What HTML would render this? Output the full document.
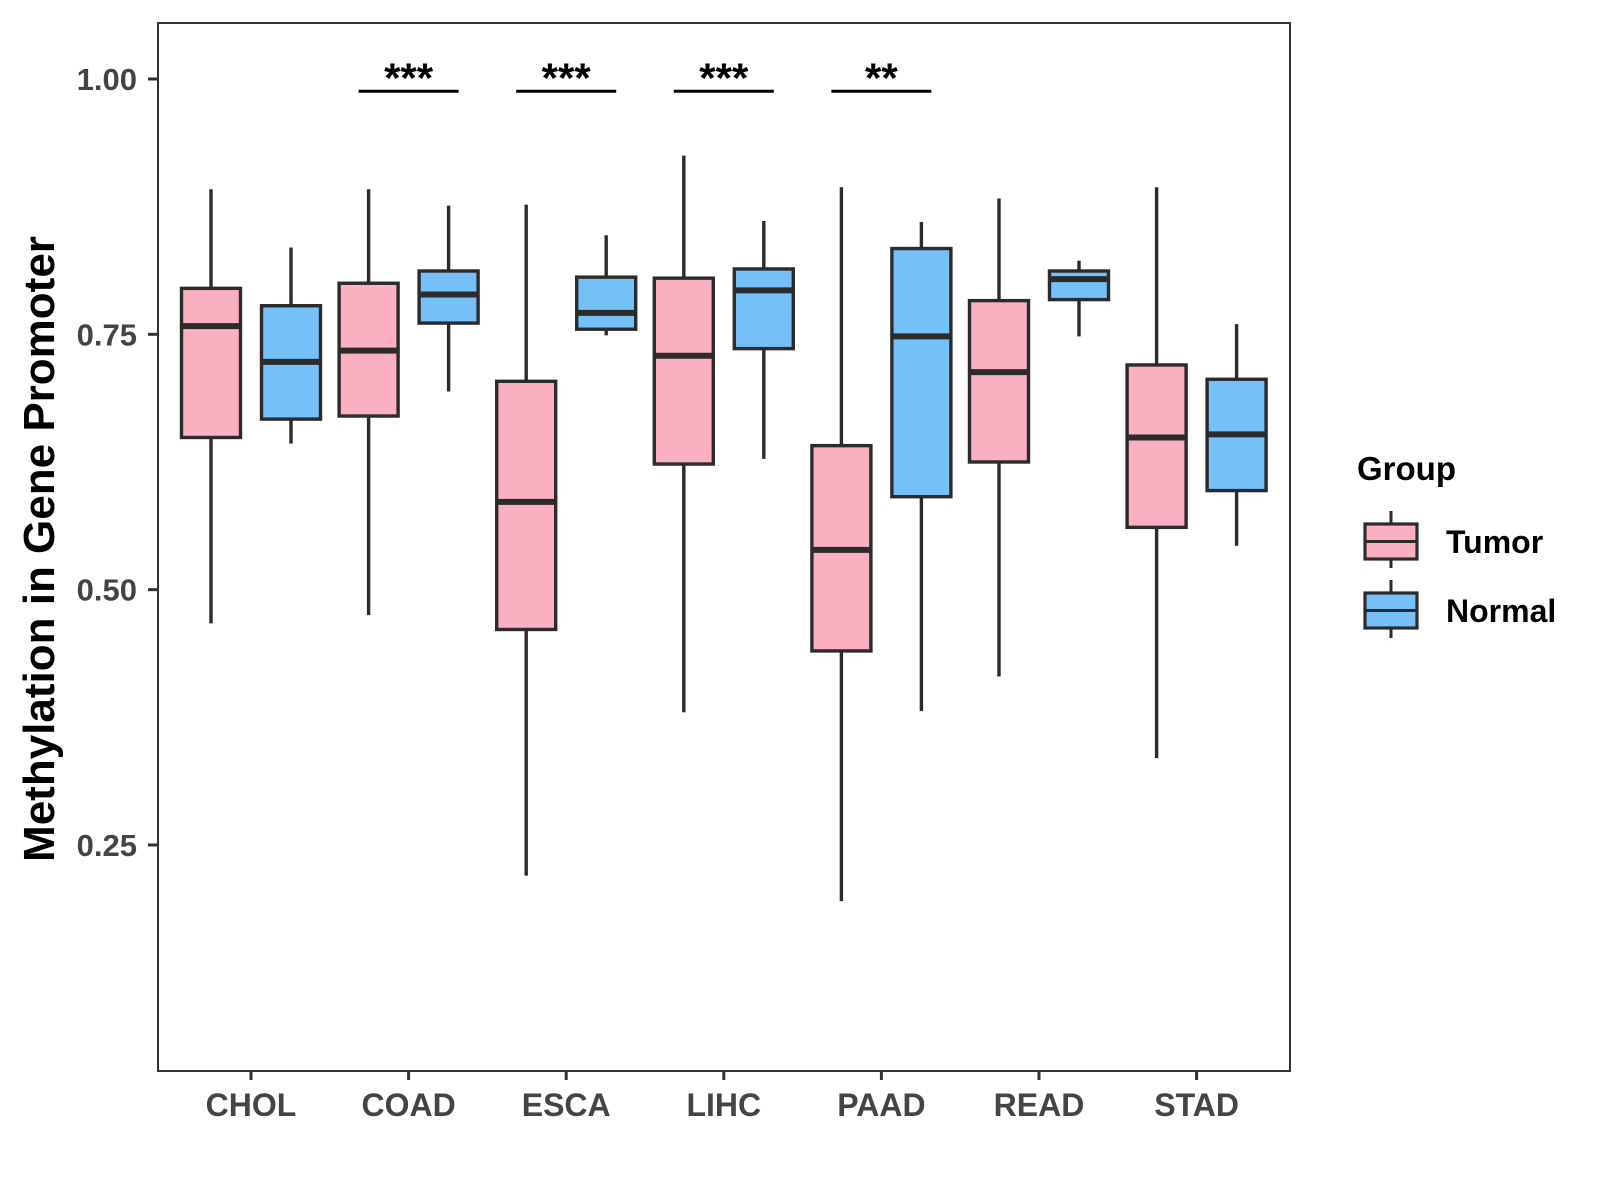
<!DOCTYPE html>
<html><head><meta charset="utf-8"><style>
html,body{margin:0;padding:0;background:#fff}
svg{display:block;font-family:"Liberation Sans",Arial,sans-serif}
</style></head><body>
<svg id="chart" width="1600" height="1200" viewBox="0 0 1600 1200">
<rect x="158" y="23" width="1132" height="1048" fill="#fff" stroke="#333" stroke-width="2"/>
<g id="marks"></g>
<g id="axes"></g>
<text transform="translate(54,549) rotate(-90)" text-anchor="middle" font-size="44" font-weight="bold" fill="#000">Methylation in Gene Promoter</text>
<g transform="translate(-7,-3)">
<text x="1364" y="483" font-size="33" font-weight="bold" fill="#000">Group</text>
<g>
<line x1="1398" y1="514" x2="1398" y2="571" stroke="#2b2b2b" stroke-width="3"/>
<rect x="1372" y="527" width="52" height="35" fill="#FBB0C1" stroke="#2b2b2b" stroke-width="3.2"/>
<line x1="1372" y1="544.5" x2="1424" y2="544.5" stroke="#2b2b2b" stroke-width="3"/>
<text x="1453" y="556" font-size="32" font-weight="bold" fill="#000">Tumor</text>
</g>
<g>
<line x1="1398" y1="583" x2="1398" y2="641" stroke="#2b2b2b" stroke-width="3"/>
<rect x="1372" y="596" width="52" height="35" fill="#74C0F7" stroke="#2b2b2b" stroke-width="3.2"/>
<line x1="1372" y1="613.5" x2="1424" y2="613.5" stroke="#2b2b2b" stroke-width="3"/>
<text x="1453" y="625" font-size="32" font-weight="bold" fill="#000">Normal</text>
</g>
</g>
</svg>
<script>
const categories = ["CHOL","COAD","ESCA","LIHC","PAAD","READ","STAD"];
const tumorLow   = [0.467,0.475,0.220,0.380,0.195,0.415,0.335];
const tumorQ1    = [0.649,0.670,0.461,0.623,0.440,0.625,0.561];
const tumorMed   = [0.758,0.734,0.586,0.729,0.539,0.713,0.649];
const tumorQ3    = [0.795,0.800,0.704,0.805,0.641,0.783,0.720];
const tumorHigh  = [0.892,0.892,0.877,0.925,0.894,0.883,0.894];
const normalLow  = [0.643,0.694,0.749,0.628,0.381,0.748,0.543];
const normalQ1   = [0.667,0.761,0.755,0.736,0.591,0.784,0.597];
const normalMed  = [0.723,0.789,0.771,0.793,0.748,0.804,0.652];
const normalQ3   = [0.778,0.812,0.806,0.814,0.834,0.812,0.706];
const normalHigh = [0.835,0.876,0.847,0.861,0.860,0.822,0.760];
const yTicks = [0.25,0.50,0.75,1.00];
const yTickLabels = ["0.25","0.50","0.75","1.00"];
const sigCategories = ["COAD","ESCA","LIHC","PAAD"];
const sigLabels = ["***","***","***","**"];
const sigLevel = 0.988;

const NS="http://www.w3.org/2000/svg";
const y = v => 79 + (1 - v) * 1021.3;
const x = i => 251 + 157.6 * i;
const marks = document.getElementById('marks');
const axes = document.getElementById('axes');
function mk(tag, attrs, parent){
  const e=document.createElementNS(NS,tag);
  for(const k in attrs) e.setAttribute(k,attrs[k]);
  parent.appendChild(e); return e;
}
function box(i, off, lo,q1,md,q3,hi, fill, name){
  const g=mk('g',{},marks);
  
  
  const cx=x(i)+off, w=59;
  mk('line',{x1:cx,x2:cx,y1:y(hi),y2:y(lo),stroke:'#2b2b2b','stroke-width':3.4},g);
  mk('rect',{x:cx-w/2,y:y(q3),width:w,height:y(q1)-y(q3),fill:fill,stroke:'#2b2b2b','stroke-width':3.4},g);
  mk('line',{x1:cx-w/2,x2:cx+w/2,y1:y(md),y2:y(md),stroke:'#2b2b2b','stroke-width':6},g);
}
categories.forEach((c,i)=>{
  box(i,-40,tumorLow[i],tumorQ1[i],tumorMed[i],tumorQ3[i],tumorHigh[i],'#FBB0C1','box-tumor-'+c.toLowerCase());
  box(i,40,normalLow[i],normalQ1[i],normalMed[i],normalQ3[i],normalHigh[i],'#74C0F7','box-normal-'+c.toLowerCase());
  const t=mk('line',{x1:x(i),x2:x(i),y1:1071,y2:1080,stroke:'#333','stroke-width':3},axes);
  
  
  const l=mk('text',{x:x(i),y:1116,'text-anchor':'middle','font-size':32,'font-weight':'bold',fill:'#444'},axes);
  l.textContent=c;
  
  
});
yTicks.forEach((v,k)=>{
  const t=mk('line',{x1:148,x2:158,y1:y(v),y2:y(v),stroke:'#333','stroke-width':3},axes);
  
  
  const l=mk('text',{x:137,y:y(v)+11,'text-anchor':'end','font-size':31,'font-weight':'bold',fill:'#444'},axes);
  l.textContent=yTickLabels[k];
  
  
});
sigCategories.forEach((c,k)=>{
  const i=categories.indexOf(c);
  const b=mk('line',{x1:x(i)-50,x2:x(i)+50,y1:y(sigLevel),y2:y(sigLevel),stroke:'#000','stroke-width':3},marks);
  
  
  const s=mk('text',{x:x(i),y:y(sigLevel)+1,'text-anchor':'middle','font-size':42,'font-weight':'bold',fill:'#000'},marks);
  s.textContent=sigLabels[k];
  
  
});
</script>
</body></html>
